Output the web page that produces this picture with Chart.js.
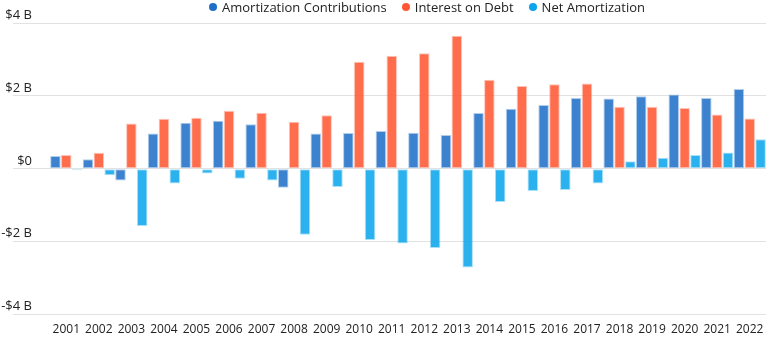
<!DOCTYPE html>
<html>
<head>
<meta charset="utf-8">
<title>Amortization</title>
<script src="https://cdn.jsdelivr.net/npm/chart.js@4.4.1/dist/chart.umd.min.js"></script>
<style>
  body { margin: 0; background: #fff; font-family: 'Open Sans', sans-serif; }
  .wrap { position: relative; width: 773px; height: 345px; }
  #legend { position: absolute; top: -1px; left: 209px; display: flex; font-size: 13px; color: #222; line-height: 16px; white-space: nowrap; }
  #legend .item { display: flex; align-items: center; margin-right: 15px; }
  #legend .dot { width: 8px; height: 8px; border-radius: 50%; margin-right: 5px; }
  canvas { display: block; }
</style>
</head>
<body>
<div class="wrap">
  <div id="legend"></div>
  <canvas id="debtChart" width="773" height="345"></canvas>
</div>
<script>
// values in billions of dollars
const years = ['2001','2002','2003','2004','2005','2006','2007','2008','2009','2010','2011',
               '2012','2013','2014','2015','2016','2017','2018','2019','2020','2021','2022'];
const amortContrib = [0.35, 0.26, -0.32, 0.97, 1.26, 1.32, 1.22, -0.52, 0.97, 0.98, 1.04,
                      0.99, 0.93, 1.53, 1.65, 1.75, 1.94, 1.93, 1.99, 2.04, 1.94, 2.19];
const interestDebt = [0.38, 0.44, 1.24, 1.37, 1.40, 1.59, 1.54, 1.29, 1.47, 2.94, 3.10,
                      3.17, 3.65, 2.44, 2.27, 2.32, 2.34, 1.70, 1.70, 1.67, 1.49, 1.38];
const netAmort = [-0.04, -0.18, -1.57, -0.40, -0.13, -0.27, -0.32, -1.81, -0.50, -1.95, -2.05,
                  -2.17, -2.71, -0.91, -0.61, -0.58, -0.40, 0.21, 0.30, 0.38, 0.45, 0.81];
const yTickValues = [-4, -2, 0, 2, 4];
const yTickLabels = ['-$4 B', '-$2 B', '$0', '$2 B', '$4 B'];

const seriesNames = ['Amortization Contributions', 'Interest on Debt', 'Net Amortization'];
const seriesColors = ['31, 111, 200', '255, 87, 51', '11, 165, 236'];

const FONT = "'Open Sans', sans-serif";

// y labels sit right-aligned just above each grid line
const yLabelPlugin = {
  id: 'yLabels',
  afterDraw(chart) {
    const { ctx } = chart;
    const y = chart.scales.y;
    ctx.save();
    ctx.font = '13px ' + FONT;
    ctx.fillStyle = '#222';
    ctx.textAlign = 'right';
    ctx.textBaseline = 'middle';
    yTickValues.forEach((v, i) => {
      ctx.fillText(yTickLabels[i], 32, y.getPixelForValue(v) - 8);
    });
    ctx.restore();
  }
};

function makeSet(i, data) {
  return {
    label: seriesNames[i],
    data: data,
    backgroundColor: 'rgba(' + seriesColors[i] + ', 0.87)',
    borderColor: 'rgba(' + seriesColors[i] + ', 0.35)',
    borderWidth: 1,
    borderSkipped: false,
    categoryPercentage: 1,
    barPercentage: 0.97
  };
}

const chart = new Chart(document.getElementById('debtChart'), {
  type: 'bar',
  data: {
    labels: years,
    datasets: [makeSet(0, amortContrib), makeSet(1, interestDebt), makeSet(2, netAmort)]
  },
  options: {
    responsive: false,
    animation: false,
    layout: { padding: { top: 23, left: 13, right: 7, bottom: 0 } },
    plugins: {
      legend: { display: false },
      tooltip: { enabled: false }
    },
    scales: {
      x: {
        grid: { display: false, drawTicks: false },
        border: { display: false },
        ticks: { color: '#222', font: { family: FONT, size: 12 }, padding: 8, maxRotation: 0, autoSkip: false }
      },
      y: {
        min: -4,
        max: 4,
        afterBuildTicks: axis => { axis.ticks = yTickValues.map(v => ({ value: v })); },
        grid: { color: '#e2e2e2', lineWidth: 1, tickLength: 37, tickColor: '#e2e2e2' },
        border: { display: false },
        ticks: { display: false }
      }
    }
  },
  plugins: [yLabelPlugin]
});

// html legend built from the datasets
const legendBox = document.getElementById('legend');
chart.data.datasets.forEach((ds, i) => {
  const item = document.createElement('span');
  item.className = 'item';
  const dot = document.createElement('span');
  dot.className = 'dot';
  dot.style.background = 'rgb(' + seriesColors[i] + ')';
  item.appendChild(dot);
  item.appendChild(document.createTextNode(ds.label));
  legendBox.appendChild(item);
});
</script>
</body>
</html>
